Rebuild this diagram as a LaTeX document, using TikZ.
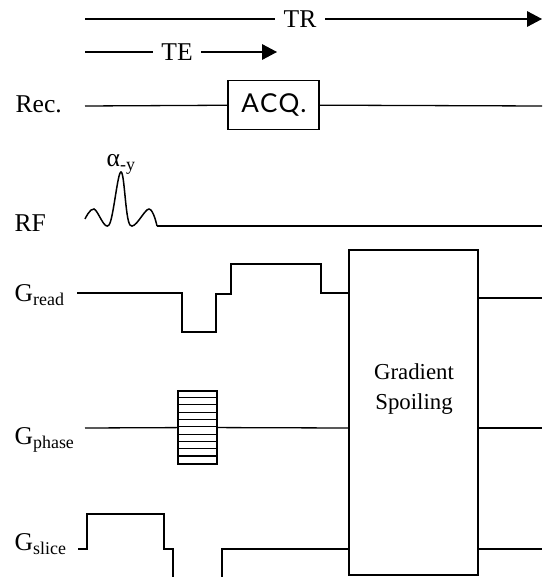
\documentclass[tikz,border=0pt]{standalone}
\usepackage{fontspec}
\usepackage{amsmath}
\usetikzlibrary{arrows.meta}
\setmainfont{Liberation Serif}
\newfontfamily\acqfont[LetterSpace=6]{Lato}

\begin{document}
\begin{tikzpicture}[x=0.5pt,y=-0.5pt,line width=0.65pt,
	font=\fontsize{12.8}{14}\selectfont,
	lbl/.style={anchor=base west,inner sep=0pt},
	span/.style={-{Triangle[length=7.5pt,width=7.8pt]}},
	boxed/.style={draw,line width=0.75pt,inner sep=0pt}]
	\useasboundingbox (0,0) rectangle (542,577);

	\coordinate (tr0) at (85,19);
	\coordinate (tr1) at (542,19);
	\node[inner sep=4pt] (tr) at (300,19) {TR};
	\draw (tr0) -- (tr);
	\draw[span] (tr) -- (tr1);

	\coordinate (te0) at (85,52);
	\coordinate (te1) at (277,52);
	\node[inner sep=4pt] (te) at (177,52) {TE};
	\draw (te0) -- (te);
	\draw[span] (te) -- (te1);

	\node[lbl] (rec) at (15,113) {Rec.};
	\node[lbl] (rf) at (14,231) {RF};
	\node[lbl] (gread) at (14,301) {G\textsubscript{read}};
	\node[lbl] (gphase) at (14,444) {G\textsubscript{phase}};
	\node[lbl] (gslice) at (14,550) {G\textsubscript{slice}};

	\coordinate (rc0) at (85,106);
	\coordinate (rc1) at (542,106);
	\node[boxed,minimum width=45.5pt,minimum height=24.5pt,
		font=\acqfont\fontsize{13}{14}\selectfont] (acq) at (273.5,105) {\hspace{0.5pt}ACQ.};
	\draw (rc0) -- (acq);
	\draw (acq) -- (rc1);

	\node[lbl] (alpha) at (106,167) {α\textsubscript{-y}};
	\coordinate (rf0) at (85,219);
	\coordinate (rf1) at (157,226);
	\coordinate (rf2) at (542,226);
	\draw[line width=0.75pt] plot[smooth,tension=0.6] coordinates {(rf0) (94,209) (109,225) (121,172) (130,225) (149,209) (rf1)};
	\draw (rf1) -- (rf2);

	\node[draw,line width=1pt,minimum width=64.5pt,minimum height=162.5pt] (spoil) at (413.5,412.5) {};
	\node[align=center,font=\fontsize{11.4}{15}\selectfont] (spoiltxt) at (414,389) {Gradient\\Spoiling};

	\coordinate (rd0) at (77,293);
	\coordinate (rd1) at (542,298);
	\draw (rd0) -- ++(105,0) -- ++(0,39) -- ++(34,0) -- ++(0,-38) -- ++(15,0)
		-- ++(0,-30) -- ++(90,0) -- ++(0,29) -- (spoil.west |- rd0);
	\draw (spoil.east |- rd1) -- (rd1);

	\coordinate (ph0) at (85,428);
	\coordinate (ph1) at (542,428);
	\node[boxed,minimum width=19.5pt,minimum height=36.5pt] (pe) at (197.5,427.5) {};
	\foreach \k in {1,...,9}
		\draw[line width=0.55pt] ([yshift=-\k*3.65pt]pe.north west) -- ([yshift=-\k*3.65pt]pe.north east);
	\draw (ph0) -- (pe);
	\draw (pe) -- (spoil.west |- ph0);
	\draw (spoil.east |- ph1) -- (ph1);

	\coordinate (sl0) at (78,549);
	\coordinate (sl1) at (222,577);
	\coordinate (sl2) at (542,549);
	\draw (sl0) -- ++(9,0) -- ++(0,-35) -- ++(77,0) -- ++(0,35) -- ++(9,0) -- ++(0,28);
	\draw (sl1) -- ++(0,-28) -- (spoil.west |- sl0);
	\draw (spoil.east |- sl2) -- (sl2);
\end{tikzpicture}
\end{document}
